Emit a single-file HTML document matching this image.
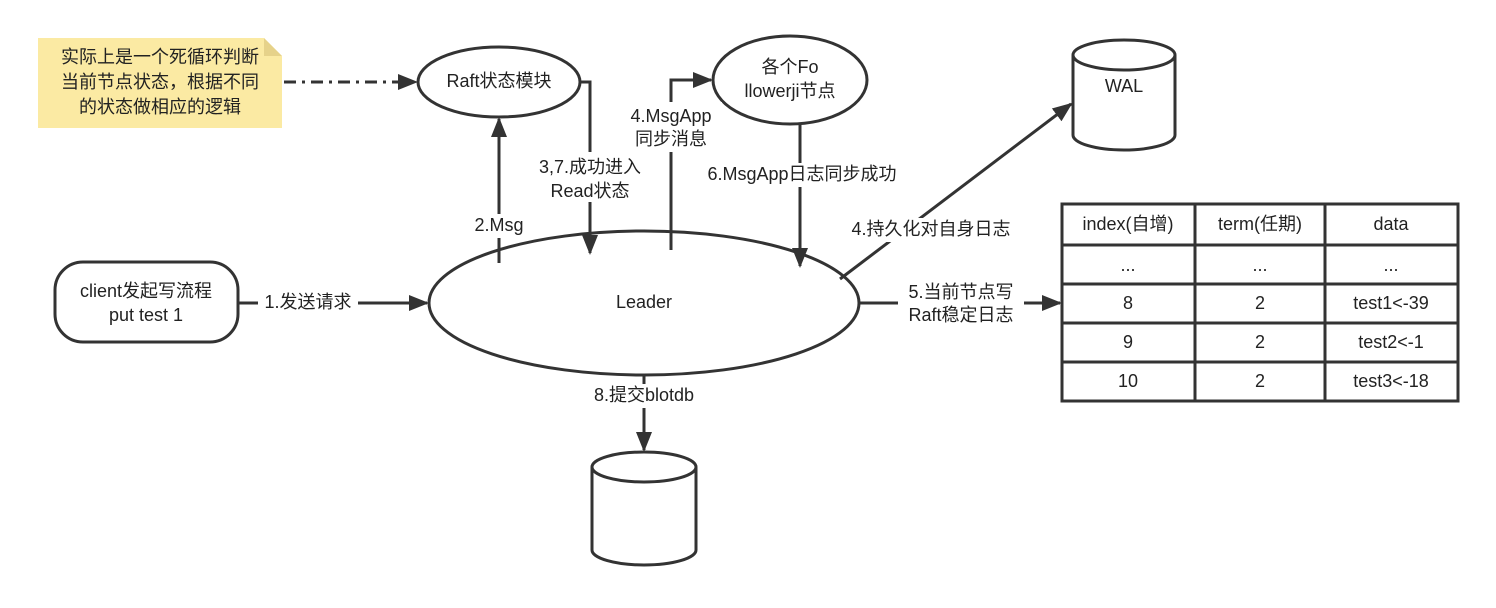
<!DOCTYPE html>
<html><head><meta charset="utf-8"><style>
body{margin:0;background:#fff}
svg{display:block}
text{font-family:"Liberation Sans","Noto Sans CJK SC",sans-serif;font-size:18px;fill:#222;text-anchor:middle;dominant-baseline:middle}
</style></head><body>
<svg width="1496" height="608" viewBox="0 0 1496 608">
<defs>
<marker id="b" viewBox="0 0 10 10" markerWidth="20" markerHeight="20" refX="9" refY="5" orient="auto" markerUnits="userSpaceOnUse"><path d="M0,1 L10,5 L0,9 Z" fill="#333"/></marker></defs>
<g stroke="#333" stroke-width="3" fill="none">
<path d="M38,38 H264 L282,56 V128 H38 Z" fill="#fbeaa3" stroke="none"/>
<path d="M264,38 V56 H282 Z" fill="#e6d28a" stroke="none"/>
<line x1="284" y1="82" x2="416" y2="82" stroke-dasharray="12,6,3,6" marker-end="url(#b)"/>
<ellipse cx="499" cy="82" rx="81" ry="35" fill="#fff"/>
<ellipse cx="790" cy="80" rx="77" ry="44" fill="#fff"/>
<path d="M1073,55 V135 A51,15 0 0 0 1175,135 V55 A51,15 0 0 0 1073,55 A51,15 0 0 0 1175,55" fill="#fff"/>
<ellipse cx="644" cy="303" rx="215" ry="72" fill="#fff"/>
<rect x="55" y="262" width="183" height="80" rx="28" fill="#fff"/>
<line x1="238" y1="303" x2="427" y2="303" marker-end="url(#b)"/>
<line x1="499" y1="263" x2="499" y2="119" marker-end="url(#b)"/>
<path d="M580,82 H590 V253" marker-end="url(#b)"/>
<path d="M671,250 V80 H711" marker-end="url(#b)"/>
<line x1="800" y1="124" x2="800" y2="266" marker-end="url(#b)"/>
<line x1="840" y1="279" x2="1071" y2="104" marker-end="url(#b)"/>
<line x1="859" y1="303" x2="1060" y2="303" marker-end="url(#b)"/>
<line x1="644" y1="375" x2="644" y2="450" marker-end="url(#b)"/>
<path d="M592,467 V550 A52,15 0 0 0 696,550 V467 A52,15 0 0 0 592,467 A52,15 0 0 0 696,467" fill="#fff"/>
<rect x="1062" y="204" width="396" height="197" fill="#fff"/>
<path d="M1195,204 V401 M1325,204 V401 M1062,245 H1458 M1062,284 H1458 M1062,323 H1458 M1062,362 H1458"/>
</g>
<text x="160" y="58">实际上是一个死循环判断</text>
<text x="160" y="83">当前节点状态，根据不同</text>
<text x="160" y="108">的状态做相应的逻辑</text>
<text x="499" y="82">Raft状态模块</text>
<text x="790" y="68">各个Fo</text>
<text x="790" y="92">llowerji节点</text>
<text x="1124" y="87">WAL</text>
<text x="644" y="303">Leader</text>
<text x="146" y="292">client发起写流程</text>
<text x="146" y="316">put test 1</text>
<rect x="258" y="292" width="100" height="22" fill="#fff"/><text x="308" y="303">1.发送请求</text>
<rect x="468" y="214" width="62" height="24" fill="#fff"/><text x="499" y="226">2.Msg</text>
<rect x="533" y="152" width="114" height="50" fill="#fff"/><text x="590" y="168">3,7.成功进入</text><text x="590" y="192">Read状态</text>
<rect x="620" y="102" width="102" height="50" fill="#fff"/><text x="671" y="117">4.MsgApp</text><text x="671" y="140">同步消息</text>
<rect x="695" y="163" width="214" height="24" fill="#fff"/><text x="802" y="175">6.MsgApp日志同步成功</text>
<rect x="843" y="218" width="176" height="24" fill="#fff"/><text x="931" y="230">4.持久化对自身日志</text>
<rect x="898" y="281" width="126" height="46" fill="#fff"/><text x="961" y="293">5.当前节点写</text><text x="961" y="316">Raft稳定日志</text>
<rect x="580" y="384" width="128" height="24" fill="#fff"/><text x="644" y="396">8.提交blotdb</text>
<text x="1128" y="225">index(自增)</text><text x="1260" y="225">term(任期)</text><text x="1391" y="225">data</text>
<text x="1128" y="266">...</text><text x="1260" y="266">...</text><text x="1391" y="266">...</text>
<text x="1128" y="304">8</text><text x="1260" y="304">2</text><text x="1391" y="304">test1&lt;-39</text>
<text x="1128" y="343">9</text><text x="1260" y="343">2</text><text x="1391" y="343">test2&lt;-1</text>
<text x="1128" y="382">10</text><text x="1260" y="382">2</text><text x="1391" y="382">test3&lt;-18</text>
</svg>
</body></html>
